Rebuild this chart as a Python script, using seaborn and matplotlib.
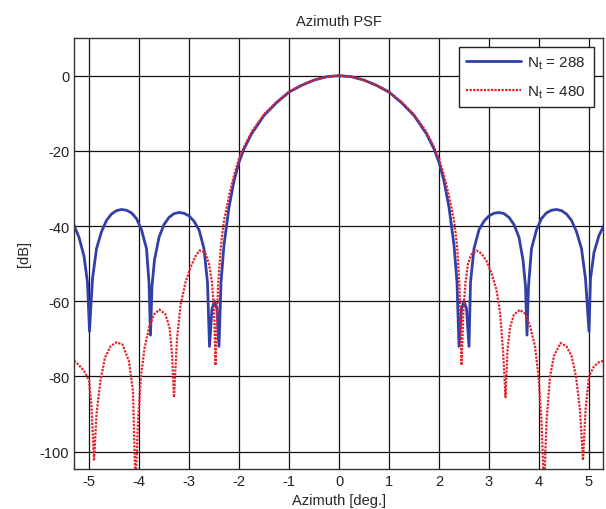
import matplotlib
matplotlib.use("Agg")
import matplotlib.pyplot as plt
import seaborn as sns
import pandas as pd

# ---- data ----
az_288 = [-5.3, -5.2, -5.1, -5.03, -4.99, -4.93, -4.85, -4.75, -4.65, -4.55, -4.45, -4.35,
          -4.25, -4.15, -4.05, -3.95, -3.85, -3.8, -3.77, -3.74, -3.69, -3.6, -3.5, -3.4,
          -3.3, -3.2, -3.1, -3.0, -2.9, -2.8, -2.7, -2.63, -2.59, -2.54, -2.49, -2.44,
          -2.40, -2.36, -2.3, -2.2, -2.1, -2.0, -1.9, -1.75, -1.5, -1.25, -1.0, -0.75,
          -0.5, -0.25, 0.0, 0.25, 0.5, 0.75, 1.0, 1.25, 1.5, 1.75, 1.9, 2.0, 2.1, 2.2,
          2.3, 2.36, 2.40, 2.45, 2.50, 2.55, 2.60, 2.63, 2.7, 2.8, 2.9, 3.0, 3.1, 3.2,
          3.3, 3.4, 3.5, 3.6, 3.68, 3.73, 3.76, 3.79, 3.85, 3.95, 4.05, 4.15, 4.25, 4.35,
          4.45, 4.55, 4.65, 4.75, 4.85, 4.93, 5.0, 5.03, 5.1, 5.2, 5.3]
db_288 = [-39.8, -43.0, -48.0, -55.0, -68.0, -54.0, -46.0, -41.5, -38.5, -36.8, -35.9, -35.6,
          -35.8, -36.5, -38.0, -41.0, -46.0, -55.0, -69.0, -56.0, -49.0, -43.0, -39.6, -37.7,
          -36.7, -36.4, -36.6, -37.3, -38.7, -41.0, -46.0, -55.0, -72.0, -62.0, -60.0, -62.0,
          -72.0, -55.0, -45.0, -35.0, -28.0, -23.0, -19.5, -15.5, -10.6, -7.2, -4.4, -2.6,
          -1.2, -0.3, 0.0, -0.3, -1.2, -2.6, -4.4, -7.2, -10.6, -15.5, -19.5, -23.0, -28.0, -35.0,
          -45.0, -55.0, -72.0, -62.0, -60.0, -62.0, -72.0, -55.0, -46.0, -41.0, -38.7, -37.3, -36.6, -36.4,
          -36.7, -37.7, -39.6, -43.0, -49.0, -56.0, -69.0, -56.0, -46.0, -41.0, -38.0, -36.5, -35.8, -35.6,
          -35.9, -36.8, -38.5, -41.5, -46.0, -54.0, -68.0, -54.0, -47.0, -42.5, -39.8]

az_480 = [-5.3, -5.2, -5.1, -5.0, -4.95, -4.90, -4.85, -4.77, -4.68, -4.57, -4.45, -4.33,
          -4.2, -4.12, -4.07, -4.02, -3.96, -3.89, -3.8, -3.7, -3.59, -3.47, -3.39, -3.34,
          -3.30, -3.24, -3.17, -3.07, -2.97, -2.87, -2.79, -2.68, -2.60, -2.54, -2.50, -2.47,
          -2.42, -2.36, -2.3, -2.2, -2.1, -2.0, -1.9, -1.75, -1.5, -1.25, -1.0, -0.75,
          -0.5, -0.25, 0.0, 0.25, 0.5, 0.75, 1.0, 1.25, 1.5, 1.75, 1.9, 2.0, 2.1, 2.2,
          2.3, 2.36, 2.41, 2.45, 2.49, 2.53, 2.58, 2.65, 2.75, 2.85, 2.95, 3.05, 3.15, 3.22,
          3.28, 3.33, 3.37, 3.42, 3.5, 3.62, 3.72, 3.82, 3.92, 3.99, 4.05, 4.10, 4.15, 4.22,
          4.3, 4.43, 4.55, 4.65, 4.74, 4.82, 4.88, 4.93, 5.0, 5.1, 5.2, 5.3]
db_480 = [-75.8, -77.0, -78.5, -81.0, -88.0, -102.4, -90.0, -81.0, -75.0, -72.0, -70.9, -71.5,
          -76.0, -84.0, -110.0, -92.0, -80.0, -72.5, -67.0, -63.5, -62.2, -63.5, -67.0, -74.0,
          -85.5, -70.0, -61.0, -55.0, -51.0, -48.0, -46.5, -47.0, -50.0, -55.0, -62.0, -77.0,
          -56.0, -45.0, -38.5, -32.0, -26.5, -22.0, -19.0, -15.0, -10.3, -7.0, -4.3, -2.5,
          -1.2, -0.3, 0.0, -0.3, -1.2, -2.5, -4.3, -7.0, -10.3, -15.0, -19.0, -22.0, -26.5, -32.0,
          -38.5, -45.0, -56.0, -77.0, -62.0, -55.0, -50.0, -47.5, -46.5, -47.3, -49.3, -52.5, -57.0, -63.0,
          -73.0, -85.5, -73.0, -67.0, -63.5, -62.3, -63.3, -66.5, -72.0, -80.0, -92.0, -110.0, -92.0, -80.0,
          -74.5, -71.1, -72.0, -74.5, -80.0, -89.0, -102.3, -89.0, -80.0, -77.3, -76.2, -75.8]

labels = ["N$_\\mathregular{t}$ = 288", "N$_\\mathregular{t}$ = 480"]
x_ticks = [-5, -4, -3, -2, -1, 0, 1, 2, 3, 4, 5]
y_ticks = [-100, -80, -60, -40, -20, 0]

df = pd.concat([
    pd.DataFrame({"az": az_288, "db": db_288, "series": labels[0]}),
    pd.DataFrame({"az": az_480, "db": db_480, "series": labels[1]}),
], ignore_index=True)

sns.set_style("white")
plt.rcParams["font.family"] = ["Liberation Sans", "DejaVu Sans"]
plt.rcParams["mathtext.fontset"] = "custom"
plt.rcParams["mathtext.rm"] = "Liberation Sans"
plt.rcParams["mathtext.it"] = "Liberation Sans"
plt.rcParams["axes.unicode_minus"] = False

fig = plt.figure(figsize=(6.06, 5.10), dpi=100)
ax = fig.add_axes([74 / 606, 1 - 470 / 510, (603 - 74) / 606, (470 - 39) / 510])

sns.lineplot(data=df[df.series == labels[0]], x="az", y="db", ax=ax, color="#3040a8",
             linewidth=2.0, label=labels[0], sort=False, estimator=None)
sns.lineplot(data=df[df.series == labels[1]], x="az", y="db", ax=ax, color="#e8202a",
             linewidth=1.6, linestyle=(0, (1, 0.6)), label=labels[1], sort=False, estimator=None)

ax.set_xlim(-5.3, 5.28)
ax.set_ylim(-104.6, 10)
ax.set_xticks(x_ticks)
ax.set_yticks(y_ticks)
ax.grid(True, color="#111111", linewidth=0.9)
ax.tick_params(direction="in", length=4, labelsize=10.5, colors="#222222")
for s in ax.spines.values():
    s.set_color("#333333")
    s.set_linewidth(1.0)

ax.set_title("Azimuth PSF", fontsize=10.5, pad=9)
ax.set_xlabel("Azimuth [deg.]", fontsize=10.5, labelpad=4)
ax.set_ylabel("[dB]", fontsize=10.5, labelpad=6)

leg = ax.legend(loc="upper right", fontsize=11, fancybox=False, framealpha=1,
                edgecolor="#222222", borderaxespad=0.6, handlelength=3.6,
                handletextpad=0.4, borderpad=0.5, labelspacing=0.8)
leg.get_frame().set_linewidth(1.0)

fig.savefig("out.png", dpi=100)
